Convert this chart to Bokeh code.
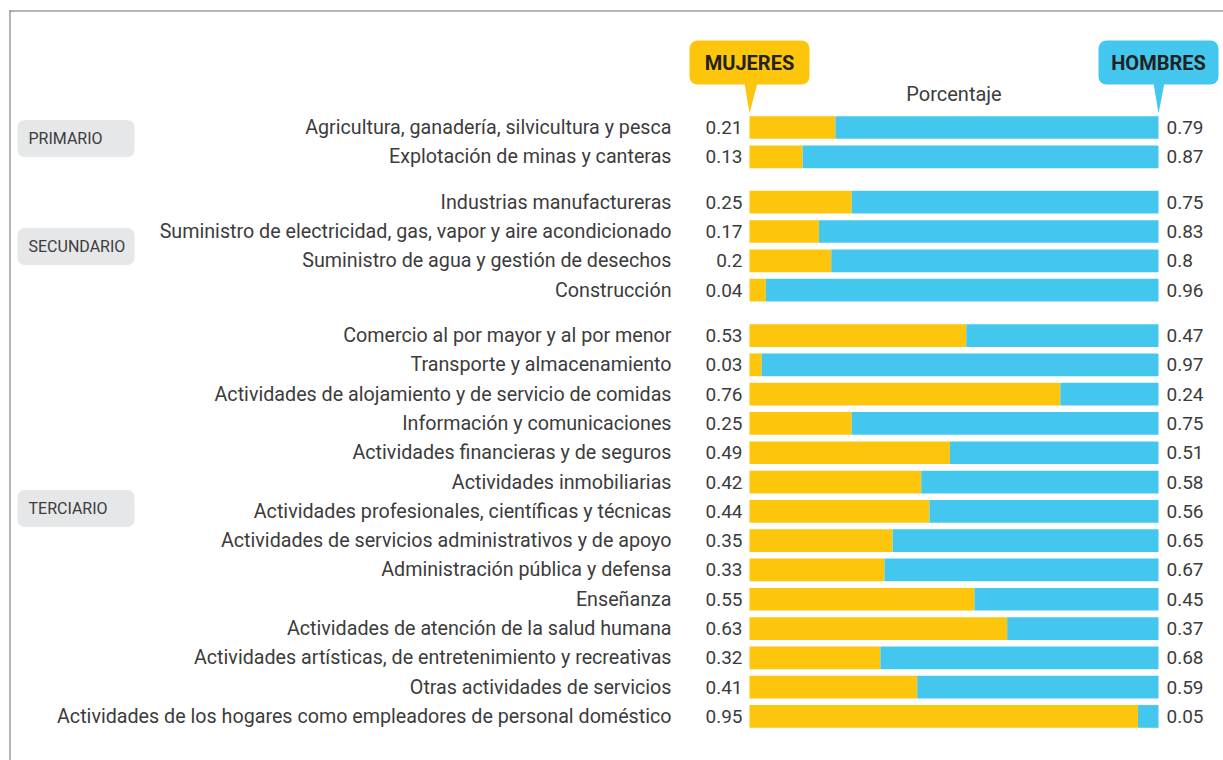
from bokeh.plotting import figure
from bokeh.models import Range1d, ColumnDataSource
from bokeh.core.properties import value
from bokeh.embed import file_html
from bokeh.resources import INLINE

categories = [
    "Agricultura, ganadería, silvicultura y pesca",
    "Explotación de minas y canteras",
    "Industrias manufactureras",
    "Suministro de electricidad, gas, vapor y aire acondicionado",
    "Suministro de agua y gestión de desechos",
    "Construcción",
    "Comercio al por mayor y al por menor",
    "Transporte y almacenamiento",
    "Actividades de alojamiento y de servicio de comidas",
    "Información y comunicaciones",
    "Actividades financieras y de seguros",
    "Actividades inmobiliarias",
    "Actividades profesionales, científicas y técnicas",
    "Actividades de servicios administrativos y de apoyo",
    "Administración pública y defensa",
    "Enseñanza",
    "Actividades de atención de la salud humana",
    "Actividades artísticas, de entretenimiento y recreativas",
    "Otras actividades de servicios",
    "Actividades de los hogares como empleadores de personal doméstico",
]
sector_index = [0, 0, 1, 1, 1, 1, 2, 2, 2, 2, 2, 2, 2, 2, 2, 2, 2, 2, 2, 2]
sectors = ["PRIMARIO", "SECUNDARIO", "TERCIARIO"]
mujeres = [0.21, 0.13, 0.25, 0.17, 0.2, 0.04, 0.53, 0.03, 0.76, 0.25,
           0.49, 0.42, 0.44, 0.35, 0.33, 0.55, 0.63, 0.32, 0.41, 0.95]
hombres = [0.79, 0.87, 0.75, 0.83, 0.8, 0.96, 0.47, 0.97, 0.24, 0.75,
           0.51, 0.58, 0.56, 0.65, 0.67, 0.45, 0.37, 0.68, 0.59, 0.05]

W, H = 1223, 760
X0, XU = 749.0, 409.0   # canvas px of value 0, px per unit
Y0, YU = 127.0, 29.3    # canvas px of first row, px per row
GROUP_GAP = 0.55

YELLOW = "#FDC60C"
BLUE = "#44C7EE"
GREY_BOX = "#E6E7E8"
TXT = "#3c3c3c"
FONT = "Roboto"

def xd(px):
    return (px - X0) / XU

def yd(px):
    return (px - Y0) / YU

ys = [i + GROUP_GAP * g for i, g in enumerate(sector_index)]
src = ColumnDataSource(dict(
    y=ys, cat=categories,
    mend=mujeres, hend=[a + b for a, b in zip(mujeres, hombres)],
    mlab=[str(v) for v in mujeres], hlab=[str(v) for v in hombres],
))

p = figure(width=W, height=H, output_backend="svg", toolbar_location=None,
           x_range=Range1d(xd(0), xd(W)), y_range=Range1d(yd(H), yd(0)),
           x_axis_type=None, y_axis_type=None, min_border=0)
p.grid.visible = False
p.outline_line_color = None
p.background_fill_color = "white"
p.border_fill_color = "white"

# frame lines (top and left)
p.segment(x0=[xd(9), xd(9.5)], y0=[yd(10.5), yd(10)], x1=[xd(W + 5), xd(9.5)],
          y1=[yd(10.5), yd(H + 5)], line_color="#6a6a6a", line_width=1)

bh = 0.775
p.hbar(y="y", left=0, right="mend", height=bh, source=src, fill_color=YELLOW, line_color=None)
p.hbar(y="y", left="mend", right="hend", height=bh, source=src, fill_color=BLUE, line_color=None)

p.text(x=xd(671), y="y", text="cat", source=src, text_align="right", text_baseline="middle",
       text_font=value(FONT), text_font_size="19.7px", text_color=TXT)
p.text(x=xd(742), y="y", text="mlab", source=src, text_align="right", text_baseline="middle",
       text_font=value(FONT), text_font_size="19px", text_color=TXT)
p.text(x=xd(1166), y="y", text="hlab", source=src, text_align="left", text_baseline="middle",
       text_font=value(FONT), text_font_size="19px", text_color=TXT)

# sector boxes
sec_centers = [yd(138), yd(246), yd(508)]
p.quad(left=xd(17), right=xd(134), top=[c - 18.5 / YU for c in sec_centers],
       bottom=[c + 18.5 / YU for c in sec_centers], fill_color=GREY_BOX,
       line_color=None, border_radius=7)
p.text(x=xd(28), y=sec_centers, text=sectors, text_align="left", text_baseline="middle",
       text_font=value(FONT), text_font_size="16px", text_color=TXT)

# callouts
top_b, bot_b = yd(40), yd(84)
half = 60 / XU
p.quad(left=[0 - half, 1 - half], right=[0 + half, 1 + half], top=top_b, bottom=bot_b,
       fill_color=[YELLOW, BLUE], line_color=None, border_radius=8)
tip = yd(113)
p.patches(xs=[[0 - 5 / XU, 0 + 8 / XU, 0], [1 - 5 / XU, 1 + 6 / XU, 1]],
          ys=[[bot_b - 0.05, bot_b - 0.05, tip], [bot_b - 0.05, bot_b - 0.05, tip]],
          fill_color=[YELLOW, BLUE], line_color=None)
p.text(x=[0, 1], y=(top_b + bot_b) / 2, text=["MUJERES", "HOMBRES"], text_align="center",
       text_baseline="middle", text_font=value(FONT), text_font_style="bold",
       text_font_size="20px", text_color="#222222")
p.text(x=[0.5], y=[yd(93)], text=["Porcentaje"], text_align="center", text_baseline="middle",
       text_font=value(FONT), text_font_size="20px", text_color=TXT)

open("out.html", "w").write(file_html(p, INLINE))
